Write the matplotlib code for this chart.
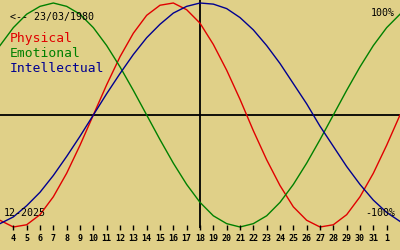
import matplotlib
matplotlib.use("Agg")
import matplotlib.pyplot as plt

# Days of the displayed window (December 2025, day 32/33 = Jan 1/2)
days = list(range(3, 34))
physical = [-0.94, -1.00, -0.98, -0.89, -0.73, -0.52, -0.27, 0.00, 0.27, 0.52,
            0.73, 0.89, 0.98, 1.00, 0.94, 0.82, 0.63, 0.40, 0.14, -0.14,
            -0.40, -0.63, -0.82, -0.94, -1.00, -0.98, -0.89, -0.73, -0.52, -0.27,
            0.00]
emotional = [0.62, 0.78, 0.90, 0.97, 1.00, 0.97, 0.90, 0.78, 0.62, 0.43,
             0.22, 0.00, -0.22, -0.43, -0.62, -0.78, -0.90, -0.97, -1.00, -0.97,
             -0.90, -0.78, -0.62, -0.43, -0.22, 0.00, 0.22, 0.43, 0.62, 0.78,
             0.90]
intellectual = [-0.97, -0.91, -0.81, -0.69, -0.54, -0.37, -0.19, 0.00, 0.19, 0.37,
                0.54, 0.69, 0.81, 0.91, 0.97, 1.00, 0.99, 0.95, 0.87, 0.76,
                0.62, 0.46, 0.28, 0.10, -0.10, -0.28, -0.46, -0.62, -0.76, -0.87,
                -0.95]
tick_days = list(range(4, 33))
tick_labels = [str(d) for d in range(4, 32)] + ["1"]
today = 18
birth_label = "<-- 23/03/1980"
month_label = "12-2025"
series_names = ["Physical", "Emotional", "Intellectual"]
colors = ["#E00000", "#008000", "#000090"]
bg = "#E0D088"

W, H = 400, 250
fig = plt.figure(figsize=(4, 2.5), dpi=100, facecolor=bg)
ax = fig.add_axes([0, 0, 1, 1])
ax.set_facecolor(bg)
ax.set_axis_off()

CY, A = 115.0, 112.0
def v(ypx):
    return (CY - ypx) / A

ax.set_xlim(3, 33)
ax.set_ylim(v(250), v(0))

# axes lines
ax.axhline(0, color="black", lw=1.3, zorder=1)
ax.vlines(today, v(228), v(0), color="black", lw=1.3, zorder=1)

# curves
for vals, c in zip([physical, emotional, intellectual], colors):
    ax.plot(days, vals, color=c, lw=1.0, zorder=2)

# ticks
ax.vlines(tick_days, v(230), v(225), color="black", lw=1.0)
for d, lab in zip(tick_days, tick_labels):
    ax.text(d, v(241), lab, ha="center", va="baseline",
            fontsize=6.0, fontweight="bold", family="DejaVu Sans Mono", color="black")

def ftext(x, y, s, **kw):
    fig.text(x / W, 1 - y / H, s, va="baseline", family="DejaVu Sans Mono", **kw)

ftext(10, 20, birth_label, fontsize=7.2, color="black")
for i, (name, c) in enumerate(zip(series_names, colors)):
    ftext(10, 42 + 15 * i, name, fontsize=9.4, color=c)
ftext(395, 16, "100%", fontsize=7.2, color="black", ha="right")
ftext(395, 216, "-100%", fontsize=7.2, color="black", ha="right")
ftext(4, 216, month_label, fontsize=7.2, color="black")

fig.savefig("out.png", dpi=100, facecolor=bg)
